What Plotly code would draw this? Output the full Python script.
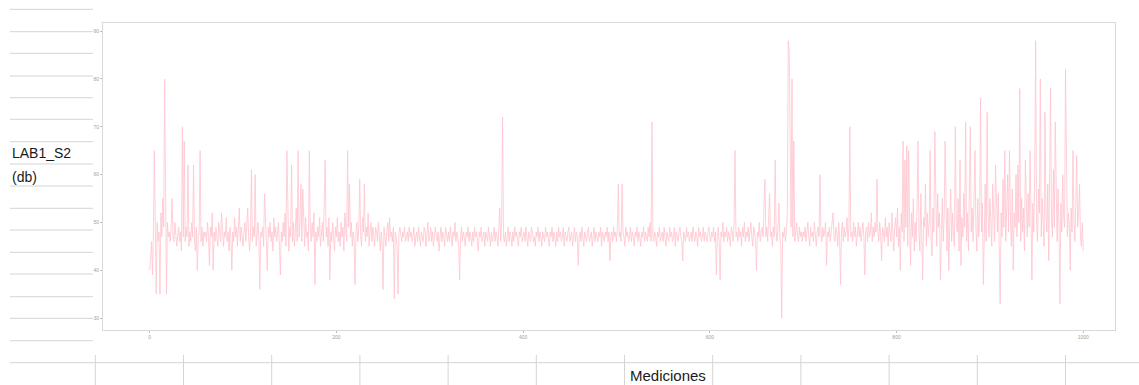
import plotly.graph_objects as go

# LAB1_S2 (db) readings, one value per measurement (0..1000)
lab1_s2 = [
    40, 44, 46, 39, 48, 65, 47, 35, 50, 46, 48, 35, 52, 47, 55, 49, 80, 48, 35, 50,
    47, 48, 46, 49, 55, 47, 46, 50, 48, 45, 47, 49, 46, 48, 44, 70, 47, 67, 46, 49,
    47, 62, 45, 48, 46, 50, 47, 62, 46, 44, 49, 40, 47, 48, 65, 46, 49, 45, 48, 47,
    48, 46, 50, 47, 41, 49, 47, 52, 40, 48, 46, 49, 47, 45, 50, 48, 46, 52, 47, 45,
    48, 47, 51, 46, 48, 44, 49, 47, 40, 48, 46, 51, 47, 49, 45, 48, 53, 46, 49, 47,
    45, 48, 50, 46, 49, 53, 47, 44, 48, 61, 46, 49, 47, 60, 45, 48, 50, 46, 36, 48,
    47, 49, 45, 56, 48, 46, 40, 49, 47, 50, 46, 48, 44, 51, 47, 49, 46, 48, 50, 45,
    39, 48, 46, 50, 47, 52, 45, 65, 48, 44, 49, 47, 62, 46, 50, 45, 48, 53, 46, 65,
    47, 50, 58, 46, 57, 49, 45, 51, 47, 48, 44, 65, 49, 46, 50, 47, 52, 37, 48, 46,
    49, 47, 51, 45, 48, 50, 46, 55, 63, 47, 49, 45, 51, 38, 48, 46, 50, 47, 44, 49,
    47, 51, 46, 48, 45, 50, 47, 49, 44, 52, 48, 46, 65, 49, 58, 47, 50, 45, 48, 46,
    37, 48, 50, 46, 49, 59, 47, 45, 51, 48, 58, 46, 49, 47, 52, 45, 48, 50, 46, 49,
    47, 45, 49, 48, 46, 50, 47, 44, 48, 46, 36, 49, 47, 45, 48, 50, 46, 51, 47, 48,
    46, 49, 34, 48, 47, 45, 35, 48, 49, 47, 46, 48, 47, 49, 46, 47, 48, 46, 49, 47,
    48, 46, 47, 49, 45, 47, 48, 46, 49, 47, 45, 48, 47, 46, 49, 48, 45, 47, 50, 46,
    47, 49, 46, 48, 45, 47, 49, 47, 46, 48, 44, 47, 49, 46, 48, 47, 45, 49, 47, 46,
    48, 46, 49, 47, 45, 48, 47, 50, 46, 48, 47, 45, 38, 47, 49, 46, 48, 47, 45, 48,
    47, 49, 46, 48, 47, 45, 48, 46, 49, 47, 48, 46, 44, 48, 47, 49, 46, 47, 48, 45,
    48, 47, 46, 49, 47, 45, 48, 46, 47, 49, 46, 48, 47, 45, 49, 53, 46, 50, 72, 47,
    46, 48, 45, 47, 49, 46, 48, 47, 45, 48, 46, 49, 47, 48, 46, 45, 48, 47, 49, 46,
    47, 48, 46, 49, 47, 45, 48, 47, 46, 49, 48, 46, 47, 45, 48, 47, 49, 46, 48, 47,
    45, 48, 47, 46, 49, 47, 48, 46, 45, 48, 47, 49, 46, 48, 47, 45, 48, 46, 49, 47,
    48, 46, 47, 49, 45, 48, 47, 46, 48, 49, 46, 47, 48, 45, 47, 49, 46, 48, 47, 41,
    47, 48, 46, 49, 47, 45, 48, 47, 46, 48, 49, 46, 47, 48, 45, 47, 49, 46, 48, 47,
    46, 48, 47, 49, 45, 48, 47, 46, 48, 47, 49, 46, 48, 42, 47, 48, 46, 49, 47, 48,
    46, 49, 58, 47, 48, 46, 58, 48, 47, 45, 49, 47, 48, 46, 47, 49, 46, 48, 47, 45,
    48, 47, 49, 46, 48, 47, 45, 48, 47, 49, 46, 48, 47, 46, 49, 47, 50, 46, 71, 47,
    46, 48, 47, 45, 48, 47, 49, 46, 47, 48, 46, 49, 47, 45, 48, 47, 46, 49, 47, 48,
    46, 47, 49, 45, 48, 47, 46, 48, 49, 47, 46, 42, 48, 47, 46, 49, 47, 48, 46, 47,
    48, 46, 49, 47, 46, 48, 47, 45, 49, 47, 48, 46, 47, 49, 46, 48, 47, 46, 48, 49,
    47, 46, 48, 47, 49, 46, 48, 39, 47, 49, 46, 38, 48, 47, 50, 46, 48, 47, 49, 46,
    48, 47, 45, 49, 48, 46, 50, 65, 47, 48, 46, 49, 47, 48, 45, 49, 47, 50, 46, 48,
    47, 49, 46, 48, 50, 47, 45, 49, 48, 46, 40, 48, 47, 50, 46, 48, 49, 47, 52, 59,
    47, 49, 46, 50, 56, 47, 48, 45, 49, 47, 63, 48, 46, 49, 54, 47, 45, 30, 48, 47,
    49, 46, 48, 52, 88, 86, 60, 49, 80, 47, 67, 46, 48, 50, 47, 46, 49, 47, 48, 46,
    48, 47, 49, 46, 48, 50, 47, 45, 49, 47, 48, 46, 50, 47, 45, 48, 49, 47, 60, 48,
    46, 49, 47, 48, 50, 41, 48, 47, 49, 46, 48, 50, 52, 47, 46, 49, 48, 45, 50, 47,
    37, 48, 50, 46, 49, 47, 48, 51, 46, 49, 70, 47, 48, 46, 50, 47, 49, 45, 48, 50,
    47, 49, 46, 48, 50, 47, 39, 48, 49, 46, 50, 47, 48, 52, 46, 49, 47, 50, 48, 59,
    48, 46, 50, 47, 42, 49, 48, 46, 51, 47, 49, 45, 50, 48, 46, 52, 47, 44, 49, 51,
    47, 53, 45, 49, 40, 52, 48, 67, 46, 63, 49, 66, 45, 65, 50, 41, 52, 47, 55, 44,
    50, 46, 54, 67, 48, 44, 56, 47, 38, 51, 49, 58, 45, 52, 47, 50, 65, 46, 43, 53,
    48, 69, 50, 45, 56, 49, 52, 38, 47, 55, 46, 51, 67, 48, 44, 53, 40, 50, 57, 46,
    52, 47, 45, 70, 50, 48, 55, 44, 63, 41, 51, 47, 56, 49, 71, 46, 52, 44, 58, 70,
    48, 53, 46, 57, 65, 49, 44, 55, 47, 51, 76, 48, 54, 37, 50, 58, 46, 73, 52, 47,
    55, 49, 45, 58, 50, 46, 62, 51, 48, 56, 44, 33, 52, 47, 59, 49, 65, 46, 53, 60,
    48, 65, 51, 45, 57, 40, 52, 49, 60, 47, 62, 50, 78, 46, 55, 48, 53, 44, 63, 50,
    47, 56, 49, 65, 51, 38, 54, 48, 60, 88, 50, 46, 57, 52, 80, 47, 55, 49, 45, 73,
    52, 48, 58, 42, 55, 78, 50, 47, 61, 49, 71, 53, 46, 57, 50, 33, 54, 48, 60, 51,
    49, 82, 55, 47, 52, 50, 40, 53, 48, 65, 51, 46, 54, 64, 49, 52, 58, 47, 45, 50,
    44,
]
mediciones = list(range(len(lab1_s2)))

y_ticks = [30, 40, 50, 60, 70, 80, 90]
x_ticks = [0, 200, 400, 600, 800, 1000]

W, H = 1139, 385


def px(x):
    return x / W


def py(y):
    return 1 - y / H


fig = go.Figure()
fig.add_trace(go.Scatter(
    x=mediciones, y=lab1_s2, mode="lines",
    line=dict(color="#ffc4ce", width=0.8), showlegend=False, hoverinfo="skip",
))

grid = "#d4d4d4"
shapes = []
# spreadsheet rows in the left column
for yy in [9.3, 31.7, 53.3, 76, 97.7, 119.3, 141.7, 164, 186, 208.3, 230,
           252.3, 274, 296.7, 318.3, 340.7]:
    shapes.append(dict(type="line", xref="paper", yref="paper",
                       x0=px(10), x1=px(93), y0=py(yy), y1=py(yy),
                       line=dict(color=grid, width=1)))
# bottom row line
shapes.append(dict(type="line", xref="paper", yref="paper",
                   x0=px(10), x1=1, y0=py(362.7), y1=py(362.7),
                   line=dict(color=grid, width=1)))
# bottom column separators
for k in range(12):
    xx = 95.3 + 88.2 * k
    shapes.append(dict(type="line", xref="paper", yref="paper",
                       x0=px(xx), x1=px(xx), y0=py(355), y1=0,
                       line=dict(color=grid, width=1)))

annotations = [
    dict(text="LAB1_S2", x=px(10), y=py(153), xref="paper", yref="paper",
         xanchor="left", yanchor="middle", showarrow=False,
         font=dict(family="Liberation Sans", size=14, color="#1a1a1a")),
    dict(text="(db)", x=px(10), y=py(177), xref="paper", yref="paper",
         xanchor="left", yanchor="middle", showarrow=False,
         font=dict(family="Liberation Sans", size=14, color="#1a1a1a")),
    dict(text="Mediciones", x=px(628), y=py(375), xref="paper", yref="paper",
         xanchor="left", yanchor="middle", showarrow=False,
         font=dict(family="Liberation Sans", size=15, color="#1a1a1a")),
]

axis_common = dict(showgrid=False, zeroline=False, showline=True, mirror=True,
                   linecolor="#d9d9d9", linewidth=1, ticks="outside",
                   ticklen=2, tickcolor="#bfbfbf",
                   tickfont=dict(size=5, color="#a0a0a0", family="Liberation Sans"))

fig.update_layout(
    width=W, height=H,
    margin=dict(l=0, r=0, t=0, b=0),
    paper_bgcolor="white", plot_bgcolor="white",
    xaxis=dict(domain=[px(103), px(1115)], range=[-50, 1034],
               tickvals=x_ticks, **axis_common),
    yaxis=dict(domain=[py(330), py(23)], range=[27.5, 91.7],
               tickvals=y_ticks, **axis_common),
    shapes=shapes,
    annotations=annotations,
)

fig.write_html("out.html")
